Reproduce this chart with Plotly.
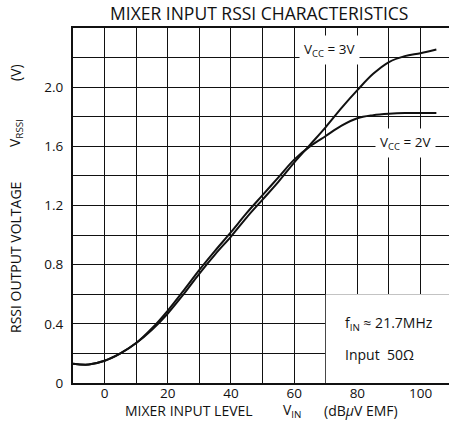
import plotly.graph_objects as go

# Data
vin = [-10, -5, 0, 5, 10, 15, 20, 25, 30, 35, 40, 45, 50, 55, 60, 65, 70, 75, 80, 85, 90, 95, 100, 105]
vrssi_3v = [0.13, 0.125, 0.15, 0.20, 0.27, 0.36, 0.47, 0.60, 0.74, 0.87, 0.99, 1.12, 1.24, 1.36, 1.49,
            1.61, 1.73, 1.86, 1.98, 2.09, 2.17, 2.21, 2.23, 2.255]
vrssi_2v = [0.13, 0.125, 0.15, 0.20, 0.27, 0.37, 0.49, 0.625, 0.765, 0.895, 1.02, 1.15, 1.27, 1.39, 1.51,
            1.60, 1.67, 1.74, 1.79, 1.81, 1.82, 1.825, 1.825, 1.825]

x_ticks = [-10, 0, 10, 20, 30, 40, 50, 60, 70, 80, 90, 100]
x_labels = ["", "0", "", "20", "", "40", "", "60", "", "80", "", "100"]
y_ticks = [0, 0.2, 0.4, 0.6, 0.8, 1.0, 1.2, 1.4, 1.6, 1.8, 2.0, 2.2]
y_labels = ["0", "", "0.4", "", "0.8", "", "1.2", "", "1.6", "", "2.0", ""]

FONT = "Open Sans"
INK = "#111111"

# plot-area geometry in pixels (for paper-referenced annotations)
L, R, T, B = 73, 449, 28, 383


def px(xp):
    return (xp - L) / (R - L)


def py(yp):
    return (B - yp) / (B - T)


fig = go.Figure()
for ys in (vrssi_3v, vrssi_2v):
    fig.add_trace(go.Scatter(x=vin, y=ys, mode="lines", line=dict(color=INK, width=2, shape="spline"),
                             showlegend=False, hoverinfo="skip"))

fig.update_layout(
    width=449, height=431,
    margin=dict(l=L, r=449 - R, t=T, b=431 - B),
    paper_bgcolor="white", plot_bgcolor="white",
    font=dict(family=FONT, color=INK, size=13),
    xaxis=dict(range=[-10, 109], tickvals=x_ticks, ticktext=x_labels, showgrid=True,
               gridcolor=INK, gridwidth=1.2, showline=True, linecolor=INK, linewidth=2,
               mirror=True, ticks="", zeroline=False, ticklabelstandoff=-3,
               tickfont=dict(size=13.5, family=FONT)),
    yaxis=dict(range=[0, 2.4], tickvals=y_ticks, ticktext=y_labels, showgrid=True,
               gridcolor=INK, gridwidth=1.2, showline=True, linecolor=INK, linewidth=2,
               ticks="", zeroline=False, ticklabelstandoff=5,
               tickfont=dict(size=13.5, family=FONT)),
)

# White region behind the condition notes (covers grid, below traces)
fig.add_shape(type="rect", xref="x", yref="y", x0=70, x1=112, y0=0.0, y1=0.6,
              fillcolor="white", line=dict(width=0), layer="between")


def note(text, x, y, size=13, **kw):
    d = dict(text=text, x=x, y=y, showarrow=False, font=dict(size=size),
             xanchor="center", yanchor="middle")
    d.update(kw)
    return d


ann = [
    note("MIXER INPUT RSSI CHARACTERISTICS", px(259), py(13), 17.5, xref="paper", yref="paper"),
    # x-axis title pieces
    note("MIXER INPUT LEVEL", px(189), py(411), 14, xref="paper", yref="paper"),
    note("V<sub>IN</sub>", px(292), py(411), 14, xref="paper", yref="paper"),
    note("(dB<i>μ</i>V EMF)", px(361), py(411), 14, xref="paper", yref="paper"),
    # y-axis title pieces
    note("RSSI OUTPUT VOLTAGE", px(15), py(258), 14, xref="paper", yref="paper", textangle=-90),
    note("V<sub>RSSI</sub>", px(15), py(133), 14, xref="paper", yref="paper", textangle=-90),
    note("(V)", px(15), py(73), 14, xref="paper", yref="paper", textangle=-90),
    # curve labels
    note("V<sub>CC</sub> = 3V", 71.2, 2.25, 13.5, xref="x", yref="y", bgcolor="white", borderpad=4),
    note("V<sub>CC</sub> = 2V", 95.3, 1.62, 13.5, xref="x", yref="y", bgcolor="white", borderpad=4),
    # conditions
    note("f<sub>IN</sub> ≈ 21.7MHz", 75.6, 0.40, 14, xref="x", yref="y", xanchor="left"),
    note("Input\u00a0\u00a050Ω", 75.6, 0.195, 14, xref="x", yref="y", xanchor="left"),
]
fig.update_layout(annotations=ann)

fig.write_html("out.html", config={"displayModeBar": False},
               post_script="document.body.style.margin='0';document.body.style.padding='0';")
